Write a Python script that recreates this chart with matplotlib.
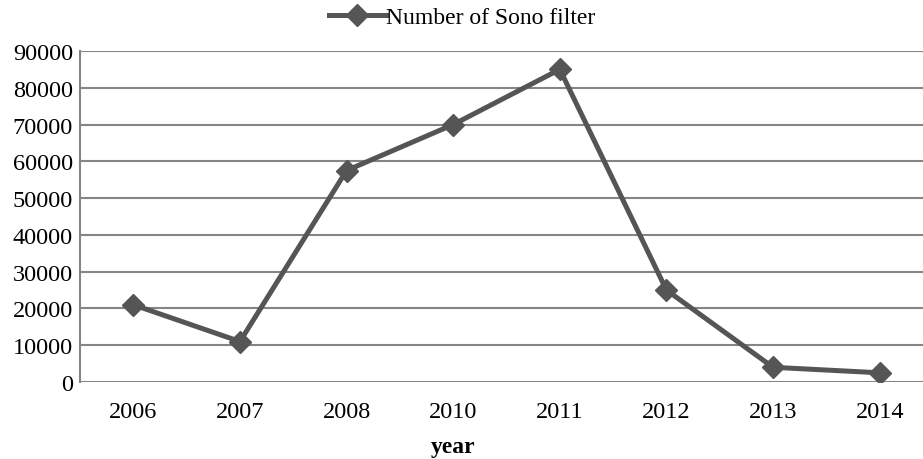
import matplotlib
matplotlib.use('Agg')
import matplotlib.pyplot as plt

years = ['2006', '2007', '2008', '2010', '2011', '2012', '2013', '2014']
sono_filter = [21000, 11000, 57500, 70000, 85000, 25000, 4000, 2500]
yticks = [0, 10000, 20000, 30000, 40000, 50000, 60000, 70000, 80000, 90000]

plt.rcParams['font.family'] = ['Liberation Serif', 'DejaVu Serif']

W, H = 923, 460
fig = plt.figure(figsize=(W / 100, H / 100), dpi=100)
# axes runs a bit past the right edge, as in the reference
ax = fig.add_axes([80 / W, 1 - 383 / H, 853 / W, (383 - 52) / H])

x = list(range(len(years)))
ax.plot(x, sono_filter, color='#555555', lw=3.6, marker='D', ms=11,
        mfc='#555555', mec='#555555', label='Number of Sono filter', zorder=3)

ax.set_xlim(-0.5, len(years) - 0.5)
ax.set_ylim(0, 90000)
ax.set_yticks(yticks)
ax.set_yticklabels([str(v) for v in yticks])
ax.set_xticks(x)
ax.set_xticklabels(years)
ax.tick_params(axis='both', length=0, labelsize=17.5, colors='black')
ax.tick_params(axis='x', pad=14)
ax.tick_params(axis='y', pad=5)

ax.grid(axis='y', color='#858585', lw=1.5)
ax.set_axisbelow(True)
for s in ['top', 'right', 'bottom']:
    ax.spines[s].set_visible(False)
ax.spines['left'].set_color('#858585')
ax.spines['left'].set_linewidth(1.5)

ax.set_xlabel('year', fontsize=17, fontweight='bold')
ax.xaxis.set_label_coords((453 - 80) / 853, -(437 - 383) / (383 - 52))

fig.legend(loc='center', bbox_to_anchor=(462 / W, 1 - 18 / H), frameon=False,
           fontsize=17, handlelength=2.4, handletextpad=0.0, borderaxespad=0)

fig.savefig('out.png', dpi=100)
